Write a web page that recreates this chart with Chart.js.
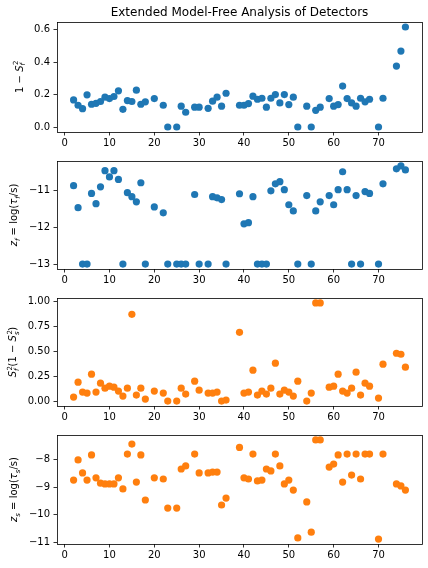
<!DOCTYPE html>
<html lang="en">
<head>
<meta charset="UTF-8">
<title>Extended Model-Free Analysis of Detectors</title>
<script src="https://cdn.jsdelivr.net/npm/chart.js"></script>
<style>
    body { margin: 0; background: #fff; }
    #fig { position: relative; width: 428px; height: 568px; }
    .panel { position: absolute; left: 0; width: 428px; }
</style>
</head>
<body>
<div id="fig"></div>
<script>
// residue numbers (x) and the four detector parameters
const residues = [2,3,4,5,6,7,8,9,10,11,12,13,14,15,16,17,18,20,22,23,25,26,27,29,30,32,33,34,35,36,
    39,40,41,42,43,44,45,46,47,48,49,50,51,52,54,55,56,57,59,60,61,62,63,64,65,66,67,68,70,71,74,75,76];
const oneMinusSf2 = [0.167,0.134,0.113,0.198,0.140,0.146,0.157,0.184,0.175,0.188,0.223,0.109,0.163,0.157,0.227,0.140,0.155,
    0.175,0.134,0.0,0.0,0.128,0.091,0.122,0.122,0.115,0.159,0.184,0.128,0.208,
    0.134,0.134,0.144,0.190,0.171,0.177,0.122,0.177,0.200,0.148,0.200,0.138,0.184,0.0,
    0.128,0.0,0.103,0.122,
    0.175,0.128,0.138,0.252,0.175,0.148,0.128,0.177,0.155,0.171,
    0.0,0.177,0.375,0.468,0.616];
const zf = [-10.86,-11.46,-13,-13,-11.07,-11.35,-10.89,-10.45,-10.62,-10.45,-10.69,-13,-11.05,-11.16,-11.3,-10.78,-13,
    -11.44,-11.6,-13,-13,-13,-13,-11.1,-13,-13,-11.16,-11.19,-11.24,-13,
    -11.08,-11.9,-11.87,-11.16,-13,-13,-13,-11.0,-10.81,-10.75,-10.97,-11.38,-11.55,-13,
    -11.13,-13,-11.55,-11.3,
    -11.13,-11.38,-10.97,-10.48,-10.97,-13,-11.13,-13,-11.02,-11.07,
    -13,-10.81,-10.4,-10.32,-10.43];
const sf2OneMinusSs2 = [0.04,0.19,0.09,0.08,0.27,0.09,0.18,0.13,0.15,0.14,0.10,0.05,0.13,0.87,0.06,0.13,0.02,
    0.10,0.08,0.0,0.0,0.13,0.07,0.20,0.11,0.08,0.08,0.09,0.0,0.01,
    0.69,0.08,0.09,0.31,0.06,0.10,0.07,0.13,0.38,0.07,0.11,0.09,0.05,0.20,
    0.0,0.08,0.985,0.985,
    0.14,0.15,0.27,0.10,0.08,0.13,0.29,0.06,0.18,0.15,
    0.03,0.37,0.48,0.47,0.34];
const zs = [-8.75,-8.02,-8.49,-8.75,-7.84,-8.67,-8.86,-8.89,-8.89,-8.89,-8.67,-9.07,-7.81,-7.45,-8.82,-7.84,-9.47,
    -8.67,-8.71,-9.76,-9.76,-8.35,-8.24,-7.81,-8.49,-8.49,-8.46,-8.46,-9.65,-9.4,
    -7.57,-8.67,-8.71,-7.81,-8.78,-8.75,-8.35,-8.42,-7.81,-8.24,-8.89,-8.75,-9.11,-10.84,
    -9.54,-10.63,-7.3,-7.3,
    -8.28,-8.17,-7.84,-8.82,-7.81,-8.57,-7.81,-8.71,-7.81,-7.81,
    -10.88,-7.81,-8.89,-8.96,-9.11];

// tick labels
const xTicks = [0, 10, 20, 30, 40, 50, 60, 70];
const yTicks1 = [0.0, 0.2, 0.4, 0.6];
const yTicks2 = [-13, -12, -11];
const yTicks3 = [0.0, 0.25, 0.5, 0.75, 1.0];
const yTicks4 = [-11, -10, -9, -8];

const title = 'Extended Model-Free Analysis of Detectors';
const blue = '#1f77b4';
const orange = '#ff7f0e';
const FONT = '"DejaVu Sans", sans-serif';

// y labels as math pieces: main text, optional super/subscript
const label1 = [{t: '1 − '}, {t: 'S', it: true, sup: '2', sub: 'f'}];
const label2 = [{t: 'z', it: true, sub: 'f'}, {t: ' = log('}, {t: 'τ', it: true, sub: 'f'}, {t: '/s)'}];
const label3 = [{t: 'S', it: true, sup: '2', sub: 'f'}, {t: '(1 − '}, {t: 'S', it: true, sup: '2', sub: 's'}, {t: ')'}];
const label4 = [{t: 'z', it: true, sub: 's'}, {t: ' = log('}, {t: 'τ', it: true, sub: 's'}, {t: '/s)'}];

// plot boxes, matching the figure layout
const LEFT = 57, RIGHT = 422, XAXIS_H = 24;
const boxes = [
    {top: 22, bottom: 132},
    {top: 161, bottom: 269},
    {top: 298, bottom: 406},
    {top: 435, bottom: 544}
];

function fmt(v, dec) {
    return v.toFixed(dec).replace('-', '−');
}

// matplotlib-like 5% margins
function limits(arr) {
    const lo = Math.min(...arr), hi = Math.max(...arr);
    const pad = (hi - lo) * 0.05;
    return [lo - pad, hi + pad];
}

function mathFont(size, it) {
    return (it ? 'italic ' : '') + size + 'px ' + FONT;
}

// draw the rotated y label with sub/superscripts
function makeYLabel(parts) {
    return {
        id: 'ylabel',
        afterDraw(chart) {
            const ctx = chart.ctx;
            const a = chart.chartArea;
            const ys = chart.scales.y;
            ctx.save();
            ctx.font = '10px ' + FONT;
            let widest = 0;
            ys.ticks.forEach(t => {
                widest = Math.max(widest, ctx.measureText(String(t.label)).width);
            });
            const baseX = a.left - 7 - widest - 11.5;
            const cy = (a.top + a.bottom) / 2;

            // measure
            let total = 0;
            const widths = parts.map(p => {
                ctx.font = mathFont(10, p.it);
                let w = ctx.measureText(p.t).width;
                let extra = 0;
                ctx.font = mathFont(7, false);
                if (p.sup) extra = Math.max(extra, ctx.measureText(p.sup).width);
                ctx.font = mathFont(7, true);
                if (p.sub) extra = Math.max(extra, ctx.measureText(p.sub).width);
                total += w + extra;
                return [w, extra];
            });

            ctx.translate(baseX, cy);
            ctx.rotate(-Math.PI / 2);
            ctx.fillStyle = '#000';
            ctx.textBaseline = 'alphabetic';
            ctx.textAlign = 'left';
            let x = -total / 2;
            parts.forEach((p, i) => {
                ctx.font = mathFont(10, p.it);
                ctx.fillText(p.t, x, 0);
                x += widths[i][0];
                if (p.sup) {
                    ctx.font = mathFont(7, false);
                    ctx.fillText(p.sup, x + 0.5, -4.5);
                }
                if (p.sub) {
                    ctx.font = mathFont(7, true);
                    ctx.fillText(p.sub, x, 2.5);
                }
                x += widths[i][1];
            });
            ctx.restore();
        }
    };
}

// axes frame on all four sides
const framePlugin = {
    id: 'frame',
    afterDraw(chart) {
        const ctx = chart.ctx;
        const a = chart.chartArea;
        ctx.save();
        ctx.strokeStyle = '#000';
        ctx.lineWidth = 0.8;
        ctx.strokeRect(Math.round(a.left) + 0.5, Math.round(a.top) + 0.5,
            Math.round(a.right - a.left), Math.round(a.bottom - a.top));
        ctx.restore();
    }
};

function makeChart(idx, yValues, color, yTicks, dec, label, withTitle) {
    const box = boxes[idx];
    const canvasTop = withTitle ? 0 : box.top - 12;
    const height = box.bottom + XAXIS_H - canvasTop;

    const div = document.createElement('div');
    div.className = 'panel';
    div.style.top = canvasTop + 'px';
    div.style.height = height + 'px';
    const canvas = document.createElement('canvas');
    div.appendChild(canvas);
    document.getElementById('fig').appendChild(div);

    const points = residues.map((r, i) => ({x: r, y: yValues[i]}));
    const [xmin, xmax] = limits(residues);
    const [ymin, ymax] = limits(yValues);

    return new Chart(canvas, {
        type: 'scatter',
        data: {
            datasets: [{
                data: points,
                backgroundColor: color,
                borderWidth: 0,
                pointRadius: 3.6,
                pointHoverRadius: 3.6
            }]
        },
        options: {
            responsive: true,
            maintainAspectRatio: false,
            animation: false,
            layout: {
                padding: {left: 0, right: 428 - RIGHT, top: withTitle ? 0 : 12, bottom: 0}
            },
            plugins: {
                legend: {display: false},
                tooltip: {enabled: false},
                title: {
                    display: withTitle,
                    text: title,
                    fullSize: false,
                    color: '#000',
                    font: {family: FONT, size: 12, weight: 'normal', lineHeight: 1.2},
                    padding: {top: 6, bottom: 1.6}
                }
            },
            scales: {
                x: {
                    type: 'linear',
                    min: xmin,
                    max: xmax,
                    afterBuildTicks: s => { s.ticks = xTicks.map(v => ({value: v})); },
                    afterFit: s => { s.height = XAXIS_H; },
                    grid: {drawOnChartArea: false, color: '#000', lineWidth: 0.8, tickLength: 3.5},
                    border: {display: false},
                    ticks: {
                        autoSkip: false,
                        maxRotation: 0,
                        color: '#000',
                        padding: 2,
                        font: {family: FONT, size: 10},
                        callback: v => fmt(v, 0)
                    }
                },
                y: {
                    type: 'linear',
                    min: ymin,
                    max: ymax,
                    afterBuildTicks: s => { s.ticks = yTicks.map(v => ({value: v})); },
                    afterFit: s => { s.width = LEFT; },
                    grid: {drawOnChartArea: false, color: '#000', lineWidth: 0.8, tickLength: 3.5},
                    border: {display: false},
                    ticks: {
                        autoSkip: false,
                        color: '#000',
                        padding: 3.5,
                        font: {family: FONT, size: 10},
                        callback: v => fmt(v, dec)
                    }
                }
            }
        },
        plugins: [framePlugin, makeYLabel(label)]
    });
}

makeChart(0, oneMinusSf2, blue, yTicks1, 1, label1, true);
makeChart(1, zf, blue, yTicks2, 0, label2, false);
makeChart(2, sf2OneMinusSs2, orange, yTicks3, 2, label3, false);
makeChart(3, zs, orange, yTicks4, 0, label4, false);
</script>
</body>
</html>
